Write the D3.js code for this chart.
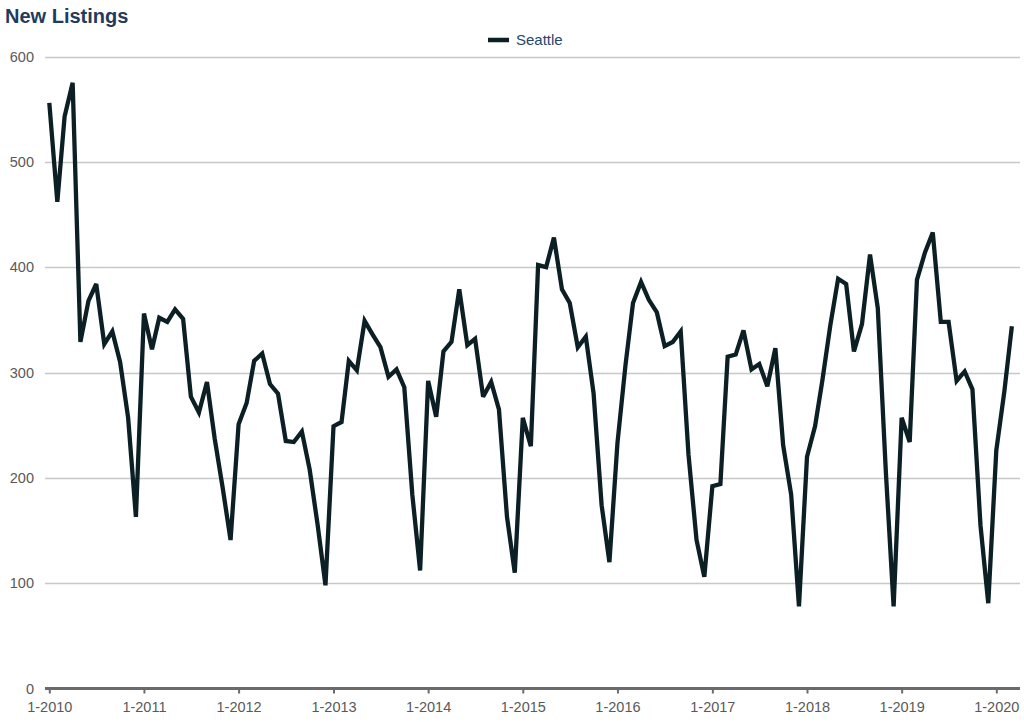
<!DOCTYPE html>
<html>
<head>
<meta charset="utf-8">
<script src="https://cdn.jsdelivr.net/npm/d3@7/dist/d3.min.js"></script>
<style>
  html, body { margin: 0; padding: 0; background: #fff; }
  svg { display: block; font-family: "Liberation Sans", Arial, sans-serif; }
</style>
</head>
<body>
<svg id="chart" width="1024" height="722"></svg>
<script>
const title = "New Listings";
const seriesName = "Seattle";
const startYear = 2010;
const yTicks = [0, 100, 200, 300, 400, 500, 600];
const xTickYears = [2010, 2011, 2012, 2013, 2014, 2015, 2016, 2017, 2018, 2019, 2020];
// Monthly new listings, Jan 2010 .. Mar 2020
const values2010 = [556, 462, 543, 575, 329, 368, 384, 327, 339, 310, 257, 163];
const values2011 = [356, 322, 352, 348, 360, 351, 277, 262, 291, 237, 190, 141];
const values2012 = [251, 271, 311, 318, 289, 280, 235, 234, 244, 208, 155, 98];
const values2013 = [249, 253, 311, 302, 349, 336, 324, 296, 303, 286, 184, 112];
const values2014 = [292, 258, 320, 329, 379, 326, 332, 277, 291, 265, 163, 110];
const values2015 = [257, 230, 402, 400, 428, 379, 366, 324, 334, 280, 174, 120];
const values2016 = [233, 307, 366, 386, 369, 357, 325, 329, 339, 222, 141, 106];
const values2017 = [192, 194, 315, 317, 340, 303, 308, 287, 323, 231, 184, 78];
const values2018 = [220, 249, 292, 345, 389, 384, 320, 346, 412, 361, 206, 78];
const values2019 = [257, 234, 388, 414, 433, 348, 348, 292, 301, 284, 155, 81];
const values2020 = [226, 282, 344];

const values = [].concat(values2010, values2011, values2012, values2013, values2014,
  values2015, values2016, values2017, values2018, values2019, values2020);
const data = values.map((v, i) => ({ date: new Date(startYear, i, 1), value: v }));

const svg = d3.select("#chart");
const x = d3.scaleTime()
  .domain([new Date(2010, 0, 1), new Date(2020, 0, 1)])
  .range([49.3, 996.3]);
const y = d3.scaleLinear().domain([0, 600]).range([688.5, 56.5]);

// title
svg.append("text").attr("x", 5).attr("y", 23)
  .attr("font-size", 20).attr("font-weight", "bold").attr("fill", "#1f3b61")
  .text(title);

// gridlines
svg.append("g").selectAll("line").data(yTicks.filter(d => d > 0)).join("line")
  .attr("x1", 45).attr("x2", 1020)
  .attr("y1", d => Math.round(y(d)) + 0.5).attr("y2", d => Math.round(y(d)) + 0.5)
  .attr("stroke", "#c8c8c8").attr("stroke-width", 1.3);

// y labels
svg.append("g").selectAll("text").data(yTicks).join("text")
  .attr("x", 34).attr("y", d => y(d) + 5)
  .attr("text-anchor", "end").attr("font-size", 14.5).attr("fill", "#595959")
  .text(d => d);

// x axis
const xAxis = d3.axisBottom(x)
  .tickValues(xTickYears.map(yr => new Date(yr, 0, 1)))
  .tickFormat(d => "1-" + d.getFullYear())
  .tickSize(5).tickSizeOuter(0).tickPadding(8);
const gx = svg.append("g").attr("transform", `translate(0,${y(0)})`).call(xAxis);
gx.select(".domain").remove();
gx.insert("line", ":first-child").attr("x1", 45).attr("x2", 1020).attr("y1", 0).attr("y2", 0)
  .attr("stroke", "#6b6b6b").attr("stroke-width", 3);
gx.selectAll(".tick line").attr("stroke", "#6b6b6b").attr("stroke-width", 2);
gx.selectAll(".tick text").attr("font-size", 14.5).attr("fill", "#595959")
  .attr("font-family", "Liberation Sans, Arial, sans-serif");

// line
const line = d3.line().x(d => x(d.date)).y(d => y(d.value));
svg.append("path").datum(data)
  .attr("d", line).attr("fill", "none")
  .attr("stroke", "#0b1f24").attr("stroke-width", 4.3)
  .attr("stroke-linejoin", "miter").attr("stroke-miterlimit", 3).attr("stroke-linecap", "butt");

// legend
const lg = svg.append("g");
lg.append("line").attr("x1", 488).attr("x2", 509).attr("y1", 40).attr("y2", 40)
  .attr("stroke", "#0b1f24").attr("stroke-width", 4.5);
lg.append("text").attr("x", 516).attr("y", 45).attr("font-size", 15).attr("fill", "#27466c")
  .text(seriesName);
</script>
</body>
</html>
